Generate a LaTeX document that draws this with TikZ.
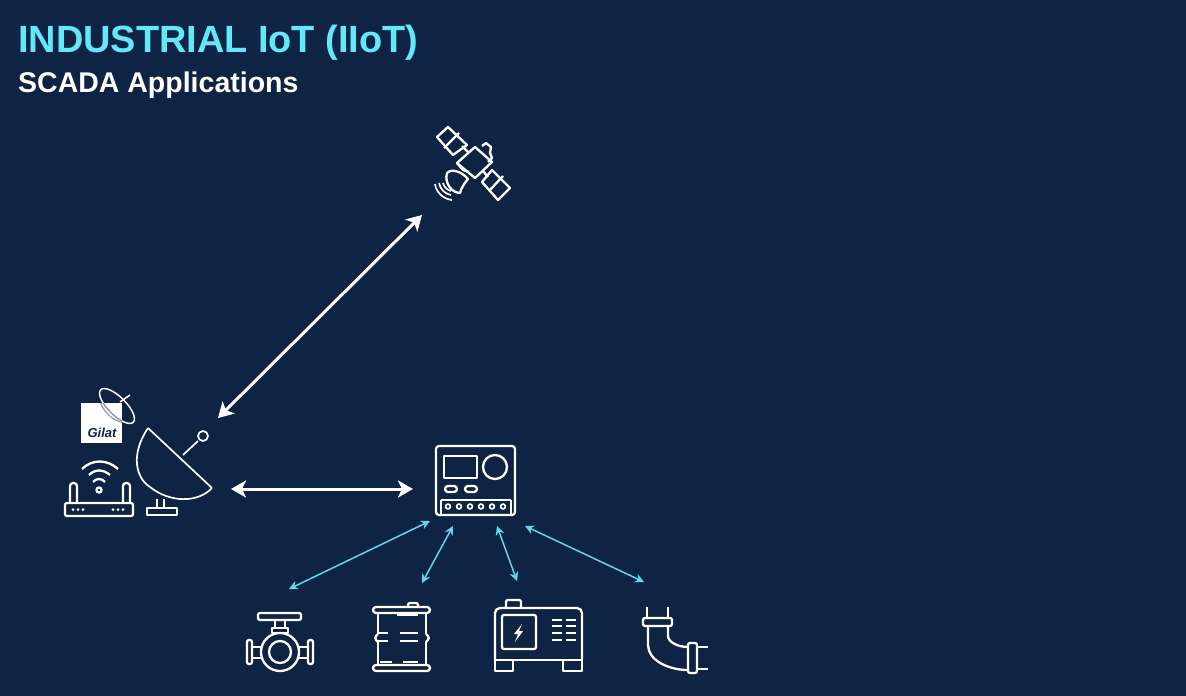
\documentclass[tikz,border=0pt]{standalone}
\usepackage{fontspec}
\setmainfont{Liberation Sans}
\usetikzlibrary{arrows.meta}
\definecolor{navy}{HTML}{0F2344}
\definecolor{skyline}{HTML}{62E8F6}
\definecolor{linkcyan}{HTML}{5FD8EA}
\tikzset{
  icon/.style={draw=white,line width=2.3pt,line join=round},
  thin icon/.style={draw=white,line width=1.7pt,line join=round},
  iconbox/.style={inner sep=0pt,outer sep=0pt},
  bigflow/.style={draw=white,line width=3pt,{Stealth[length=15pt,width=17pt,inset=4pt]}-{Stealth[length=15pt,width=17pt,inset=4pt]}},
  smallflow/.style={draw=linkcyan,line width=1.5pt,{Stealth[length=9pt,width=9pt,inset=3pt]}-{Stealth[length=9pt,width=9pt,inset=3pt]}}
}
\begin{document}
\begin{tikzpicture}[x=1pt,y=-1pt]
\fill [navy] (0,0) rectangle (1186,696);
\useasboundingbox (0,0) rectangle (1186,696);
\node [anchor=base west,text=skyline,font=\bfseries\fontsize{37.9}{40}\selectfont,inner sep=0pt] (title) at (18,52) {INDUSTRIAL IoT (IIoT)};
\node [anchor=base west,text=white,font=\bfseries\fontsize{28.5}{30}\selectfont,inner sep=0pt] (subtitle) at (18,92) {SCADA Applications};

\node [iconbox,minimum width=75pt,minimum height=75pt] (sat) at (473,165) {};
\node [iconbox,minimum width=76pt,minimum height=90pt] (dish) at (175,471) {};
\node [iconbox,minimum width=80pt,minimum height=70pt] (meter) at (475,480) {};
\node [iconbox,minimum width=66pt,minimum height=60pt] (valve) at (280,641) {};
\node [iconbox,minimum width=57pt,minimum height=68pt] (barrel) at (402,637) {};
\node [iconbox,minimum width=87pt,minimum height=71pt] (gen) at (538,636) {};
\node [iconbox,minimum width=65pt,minimum height=66pt] (pipe) at (676,640) {};

\draw [bigflow] ([shift={(43,-53)}]dish.center) -- ([shift={(-51,50)}]sat.center);
\draw [bigflow] ([shift={(56,18)}]dish.center) -- ([shift={(-62,9)}]meter.center);
\draw [smallflow] ([shift={(9,-52)}]valve.center) -- ([shift={(-45,41)}]meter.center);
\draw [smallflow] ([shift={(20,-54)}]barrel.center) -- ([shift={(-22,46)}]meter.center);
\draw [smallflow] ([shift={(-21,-55)}]gen.center) -- ([shift={(22,46)}]meter.center);
\draw [smallflow] ([shift={(-32,-58)}]pipe.center) -- ([shift={(50,46)}]meter.center);

\draw [icon] (448,127) -- (467,145) -- (453,155) -- (437,137) -- cycle;
\draw [icon] (444,148) -- (459,133);
\draw [icon] (492,170) -- (510,188) -- (498,200) -- (482,182) -- cycle;
\draw [icon] (489,191) -- (503,176);
\draw [icon] (475,147) -- (492,162) -- (475,178) -- (457,163) -- cycle;
\draw [icon] (482,146) -- (486,143) -- (491,147) -- (490,153) -- (492,158) -- (488,162);
\draw [icon] (462,146) -- (468,152);
\draw [icon] (483,171) -- (488,177);
\draw [icon] (457,163) -- (463,170) -- (469,172);
\draw [icon] (447,173) .. controls (452,168) and (462,172) .. (468,179) .. controls (462,186) and (461,190) .. (460,193) .. controls (452,193) and (444,183) .. (447,173);
\draw [thin icon] (435,184) .. controls (436,192) and (443,199) .. (452,200);
\draw [thin icon] (439,183) .. controls (440,189) and (445,194) .. (451,195);
\draw [thin icon] (443,183) .. controls (444,187) and (447,190) .. (451,191);

\draw [thin icon] (148,428) -- (212,488);
\draw [thin icon] (148,428) .. controls (130,455) and (136,478) .. (150,487) .. controls (170,503) and (198,503) .. (212,488);
\draw [thin icon] (183,455) -- (198,441);
\draw [thin icon] (203,436) circle (5);
\draw [thin icon] (157,499) -- (157,508);
\draw [thin icon] (164,499) -- (164,508);
\draw [thin icon] (147,508) rectangle (177,515);

\draw [icon,rounded corners=2pt] (65,503) rectangle (133,516);
\draw [icon,rounded corners=3pt] (70,503) -- (70,483) -- (77,483) -- (77,503);
\draw [icon,rounded corners=3pt] (123,503) -- (123,483) -- (130,483) -- (130,503);
\foreach \dotx in {73,78,83,113,118,123} {
  \fill [white] (\dotx,509.5) circle (1.5);
}
\draw [icon] (99,490) circle (2.5);
\draw [icon] (93,482) .. controls (96,478) and (102,478) .. (105,482);
\draw [icon] (89,475) .. controls (95,469) and (103,469) .. (110,475);
\draw [icon] (82,469) .. controls (92,459) and (107,459) .. (118,469);

\node [fill=white,minimum width=41pt,minimum height=40pt,inner sep=0pt] (logo) at (101.5,423) {};
\node [inner sep=0pt,text=navy,font=\bfseries\itshape\fontsize{13}{14}\selectfont] (logotext) at (102,433) {Gilat};
\draw [draw=white,line width=1.5pt,rotate around={-45:(117,406)}] (117,406) ellipse (23 and 9);
\begin{scope}
\clip (81,403) rectangle (122,443);
\draw [draw=navy!45!white,line width=1.5pt,rotate around={-45:(117,406)}] (117,406) ellipse (23 and 9);
\draw [draw=navy!45!white,line width=1.2pt] (99,396) .. controls (100,410) and (115,425) .. (130,423);
\end{scope}
\draw [draw=white,line width=1.5pt] (120,402) -- (130,395);

\draw [icon,rounded corners=3pt] (436,446) rectangle (515,515);
\draw [icon] (444,456) rectangle (477,478);
\draw [icon] (495,467) circle (12);
\draw [icon,rounded corners=3pt] (445,486) rectangle (457,492);
\draw [icon,rounded corners=3pt] (465,486) rectangle (477,492);
\draw [icon] (441,500) -- (511,500);
\draw [icon] (441,500) -- (441,515);
\draw [icon] (511,500) -- (511,515);
\foreach \termx in {448,459,470,481,492,503} {
  \draw [thin icon] (\termx,506.5) circle (2.4);
}

\draw [icon,rounded corners=2pt] (258,613) rectangle (301,620);
\draw [icon] (275,620) -- (275,628);
\draw [icon] (285,620) -- (285,628);
\draw [icon] (272,628) rectangle (288,633);
\draw [icon] (280,652) circle (19);
\draw [icon] (280,652) circle (11);
\draw [icon,rounded corners=2pt] (247,640) rectangle (252,664);
\draw [icon] (252,647) -- (262,647);
\draw [icon] (252,658) -- (262,658);
\draw [icon,rounded corners=2pt] (308,640) rectangle (313,664);
\draw [icon] (298,647) -- (308,647);
\draw [icon] (298,658) -- (308,658);

\draw [icon,rounded corners=2pt] (408,607) -- (408,603) -- (418,603) -- (418,607);
\draw [icon,rounded corners=3pt] (373,607) rectangle (430,613);
\draw [icon,rounded corners=3pt] (373,665) rectangle (430,671);
\draw [icon] (378,613) -- (378,634);
\draw [icon] (378,642) -- (378,665);
\draw [icon] (426,613) -- (426,634);
\draw [icon] (426,642) -- (426,665);
\draw [icon,rounded corners=3pt] (378,634) -- (374,638) -- (378,642);
\draw [icon,rounded corners=3pt] (426,634) -- (430,638) -- (426,642);
\draw [icon] (397,615) -- (418,615);
\draw [icon] (378,633) -- (388,633);
\draw [icon] (378,641) -- (388,641);
\draw [icon] (400,633) -- (418,633);
\draw [icon] (400,641) -- (418,641);
\draw [icon] (380,662) -- (392,662);
\draw [icon] (403,662) -- (418,662);

\draw [icon,rounded corners=5pt] (495,660) -- (495,608) -- (582,608) -- (582,660);
\draw [icon] (495,660) -- (582,660);
\draw [icon,rounded corners=2pt] (506,608) -- (506,600) -- (521,600) -- (521,608);
\draw [icon,rounded corners=2pt] (502,615) rectangle (536,649);
\fill [white] (522,624) -- (514,634) -- (518,634) -- (515,642) -- (523,631) -- (519,631) -- cycle;
\foreach \venty in {620,626,633,640} {
  \draw [thin icon] (552,\venty) -- (562,\venty);
  \draw [thin icon] (566,\venty) -- (576,\venty);
}
\draw [icon] (495,660) -- (495,671) -- (513,671) -- (513,660);
\draw [icon] (563,660) -- (563,671) -- (582,671) -- (582,660);

\draw [icon] (647,607) -- (647,618);
\draw [icon] (668,607) -- (668,618);
\draw [icon,rounded corners=2pt] (643,618) rectangle (672,626);
\draw [icon] (648,626) -- (648,645) .. controls (648,660) and (668,670) .. (688,670);
\draw [icon] (668,626) -- (668,636) .. controls (668,642) and (678,647) .. (688,647);
\draw [icon,rounded corners=2pt] (688,643) rectangle (697,673);
\draw [icon] (697,647) -- (708,647);
\draw [icon] (697,669) -- (708,669);
\end{tikzpicture}
\end{document}
